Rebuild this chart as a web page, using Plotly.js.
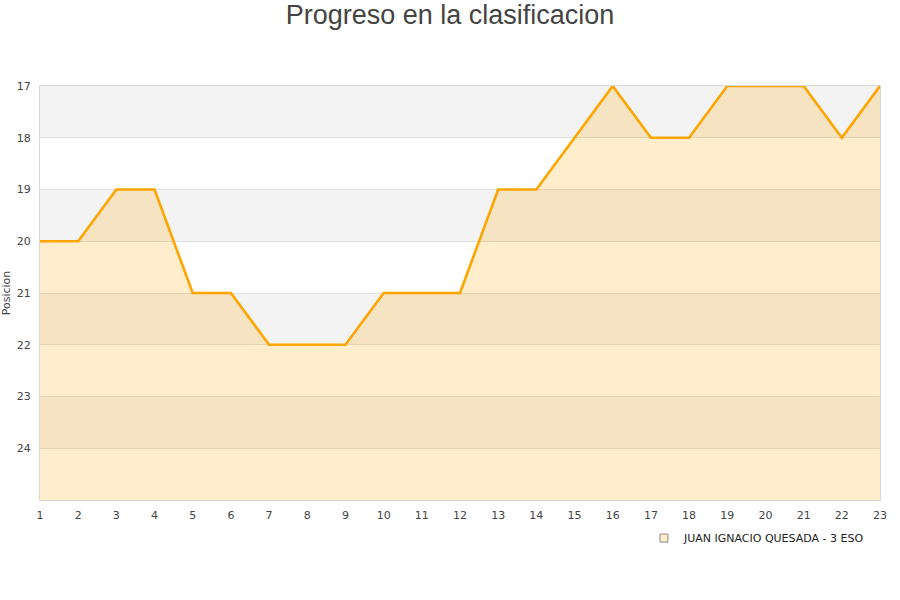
<!DOCTYPE html>
<html>
<head>
<meta charset="utf-8">
<script src="https://cdn.plot.ly/plotly-3.0.1.min.js"></script>
<style>html,body{margin:0;padding:0;background:#fff;}#chart{width:900px;height:600px;}</style>
</head>
<body>
<div id="chart"></div>
<script>
const jornadas = [1,2,3,4,5,6,7,8,9,10,11,12,13,14,15,16,17,18,19,20,21,22,23];
const posiciones = [20,20,19,19,21,21,22,22,22,21,21,21,19,19,18,17,18,18,17,17,17,18,17];
const serieNombre = 'JUAN IGNACIO QUESADA - 3 ESO';
const yTicks = [17,18,19,20,21,22,23,24];
const yMin = 17, yMax = 25;

const baseline = jornadas.map(() => yMax);

const bands = [];
for (let v = yMin; v < yMax; v += 2) {
  bands.push({type:'rect', xref:'paper', yref:'y', x0:0, x1:1, y0:v, y1:v+1,
    fillcolor:'#f3f3f3', line:{width:0}, layer:'below'});
}

const traces = [
  {x: jornadas, y: baseline, mode:'lines', line:{width:0}, hoverinfo:'skip', showlegend:false},
  {x: jornadas, y: posiciones, mode:'lines', fill:'tonexty', fillcolor:'rgba(255,165,0,0.2)',
   line:{color:'#ffa500', width:2.6}, showlegend:false, name: serieNombre},
  {x:[null], y:[null], mode:'markers', name: serieNombre,
   marker:{symbol:'square', size:8, color:'#ffedcc', line:{color:'#888', width:1}}}
];

const layout = {
  width:900, height:600,
  margin:{l:40, r:20, t:86, b:100},
  paper_bgcolor:'#fff', plot_bgcolor:'#fff',
  font:{family:'DejaVu Sans, sans-serif', size:11, color:'#444'},
  title:{text:'Progreso en la clasificacion', font:{family:'Liberation Sans, Arial, sans-serif', size:27, color:'#444'},
    x:0.5, xanchor:'center', y:0.975, yanchor:'middle', yref:'container'},
  xaxis:{range:[1,23], tickvals: jornadas, showgrid:false, zeroline:false,
    showline:true, linecolor:'#d8d8d8', mirror:true, ticks:'', ticklabelstandoff:5,
    tickfont:{size:11, color:'#444'}},
  yaxis:{range:[yMax, yMin], tickvals: yTicks, showgrid:true, gridcolor:'#dedede', zeroline:false,
    showline:true, linecolor:'#d8d8d8', mirror:true, ticks:'', ticklabelstandoff:6,
    tickfont:{size:11, color:'#444'},
    title:{text:'Posicion', font:{size:11, color:'#444'}, standoff:8}},
  shapes: bands,
  showlegend:true,
  legend:{orientation:'h', x:0.719, xanchor:'left', y:-0.092, yanchor:'middle',
    font:{size:11, color:'#222'}, bgcolor:'rgba(0,0,0,0)'}
};

Plotly.newPlot('chart', traces, layout, {displayModeBar:false, staticPlot:true});
</script>
</body>
</html>
